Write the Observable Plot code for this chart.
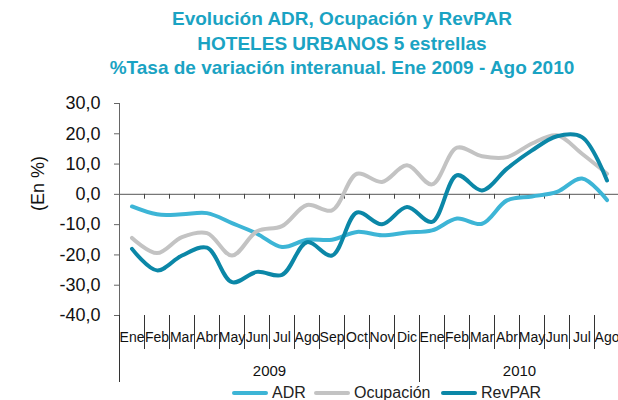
<!DOCTYPE html>
<html><head><meta charset="utf-8">
<script src="https://cdn.jsdelivr.net/npm/d3@7"></script>
<script src="https://cdn.jsdelivr.net/npm/@observablehq/plot@0.6"></script>
<style>
body{margin:0;background:#fff;font-family:"Liberation Sans",Arial,sans-serif;}
#wrap{position:relative;width:618px;height:400px;overflow:hidden;}
#title{position:absolute;left:67px;top:7px;width:550px;text-align:center;color:#1aa3c3;font-weight:bold;font-size:19px;line-height:24.5px;white-space:nowrap;}
#chart{position:absolute;left:0;top:88px;}
#legend{position:absolute;left:0;top:384px;width:618px;height:18px;font-size:16px;color:#222;}
.item{position:absolute;top:0;display:flex;align-items:center;height:18px;line-height:18px;white-space:nowrap;}
.sw{display:inline-block;width:36px;height:4px;border-radius:2px;margin-right:4px;}
</style></head><body>
<div id="wrap">
  <div id="title"></div>
  <div id="chart"></div>
  <div id="legend"></div>
</div>
<script>
const titleLines = ["Evolución ADR, Ocupación y RevPAR", "HOTELES URBANOS 5 estrellas", "%Tasa de variación interanual. Ene 2009 - Ago 2010"];
const months = ["Ene","Feb","Mar","Abr","May","Jun","Jul","Ago","Sep","Oct","Nov","Dic","Ene","Feb","Mar","Abr","May","Jun","Jul","Ago"];
const years = ["2009","2010"];
const yearCenters = [5.5, 15.5];
const seriesNames = ["ADR","Ocupación","RevPAR"];
const seriesColors = ["#3db5d6","#c3c3c3","#0b87a7"];
const adr       = [-4.0, -6.6, -6.6, -6.2, -9.5, -13.0, -17.4, -15.0, -15.0, -12.4, -13.5, -12.6, -11.9, -8.0, -9.7, -2.0, -0.7, 0.8, 5.2, -1.9];
const ocupacion = [-14.4, -19.4, -14.1, -12.8, -20.2, -12.2, -10.5, -3.5, -5.3, 6.8, 4.1, 9.6, 3.3, 15.4, 12.6, 12.3, 16.8, 19.5, 13.4, 6.8];
const revpar    = [-18.0, -25.1, -20.2, -17.6, -29.0, -25.6, -26.6, -15.8, -20.2, -6.0, -9.9, -4.2, -9.1, 6.3, 1.3, 8.5, 14.5, 19.2, 18.9, 4.6];
const yTicks = [-40, -30, -20, -10, 0, 10, 20, 30];

document.getElementById("title").innerHTML = titleLines.map(t => `<div>${t}</div>`).join("");

const data = [];
[adr, ocupacion, revpar].forEach((vals, s) => vals.forEach((v, i) => data.push({i, v, serie: seriesNames[s]})));

const idx = months.map((_, i) => i);
const allBounds = d3.range(0.5, 19.5, 1);
const yearBounds = [-0.5, 11.5, 19.5];
const monthBounds = allBounds.filter(b => !yearBounds.includes(b));

const plot = Plot.plot({
  width: 618, height: 296,
  marginLeft: 119, marginRight: 0, marginTop: 15, marginBottom: 69,
  style: {fontFamily: "Liberation Sans, Arial, sans-serif", background: "transparent", overflow: "visible", color: "#111"},
  x: {domain: [-0.5, 19.5], range: [119, 619], label: null},
  y: {domain: [-40, 30], label: null},
  color: {domain: seriesNames, range: seriesColors},
  marks: [
    Plot.ruleY([0], {stroke: "#777", strokeWidth: 1.2}),
    Plot.ruleX(allBounds, {x: d => d, y1: 0, y2: -1.6, stroke: "#444"}),
    Plot.ruleX([-0.5], {x: d => d, y1: -40, y2: 30, stroke: "#666"}),
    Plot.axisY({ticks: yTicks, tickSize: 5, tickPadding: 14, tickFormat: d => d.toFixed(1).replace(".", ","), fontSize: 18, label: null, stroke: "#666", fill: "#111"}),
    Plot.axisX({ticks: monthBounds, tickSize: 34, tickFormat: () => "", stroke: "#333", label: null}),
    Plot.axisX({ticks: yearBounds, tickSize: 67, tickFormat: () => "", stroke: "#333", label: null}),
    Plot.axisX({ticks: idx, tickSize: 0, tickPadding: 17, tickFormat: i => months[i], fontSize: 14, fill: "#111", label: null}),
    Plot.axisX({ticks: yearCenters, tickSize: 0, tickPadding: 50, tickFormat: d => years[yearCenters.indexOf(d)], fontSize: 15, fill: "#111", label: null}),
    Plot.text(["(En %)"], {text: d => d, frameAnchor: "left", dx: -81.5, dy: 1.5, rotate: -90, fontSize: 18, fill: "#111"}),
    Plot.line(data, {x: "i", y: "v", stroke: "serie", z: "serie", strokeWidth: 4, curve: "catmull-rom"})
  ]
});
document.getElementById("chart").appendChild(plot);

const legendPos = [232, 314, 441];
document.getElementById("legend").innerHTML = seriesNames.map((n, k) =>
  `<div class="item" style="left:${legendPos[k]}px"><span class="sw" style="background:${seriesColors[k]}"></span>${n}</div>`).join("");
</script>
</body></html>
